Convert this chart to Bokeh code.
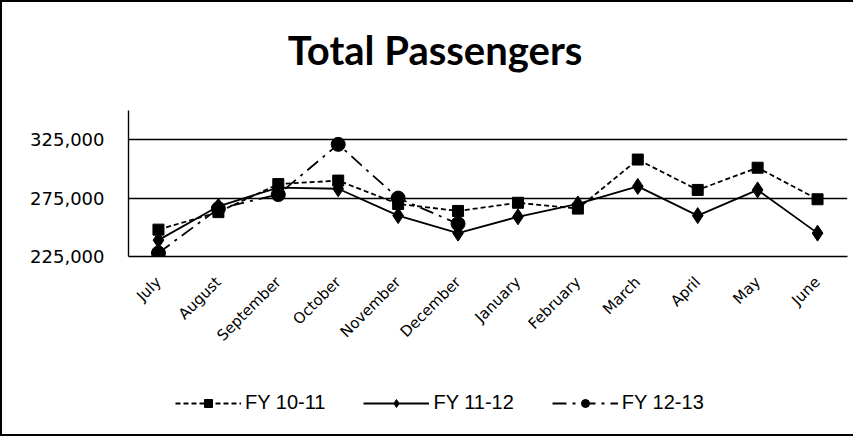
import math
from bokeh.plotting import figure
from bokeh.layouts import column
from bokeh.models import (FactorRange, Range1d, FixedTicker, NumeralTickFormatter,
                          Legend, LegendItem, ColumnDataSource, Label)
from bokeh.embed import file_html
from bokeh.resources import INLINE

months = ["July", "August", "September", "October", "November", "December",
          "January", "February", "March", "April", "May", "June"]
fy_10_11 = [248000, 263000, 287000, 290000, 270000, 264000,
            271000, 266000, 308000, 282000, 301000, 274000]
fy_11_12 = [239000, 268000, 284000, 283000, 260000, 245000,
            259000, 270000, 285000, 260000, 282000, 245000]
fy_12_13 = [228000, 266000, 278000, 321000, 275000, 253000]
y_ticks = [225000, 275000, 325000]
series_names = ["FY 10-11", "FY 11-12", "FY 12-13"]
chart_title = "Total Passengers"

Y_MIN, Y_MAX = 225000, 350000
W = 851
HT, H1, H2 = 80, 290, 62
BL, BR, BT, BB = 126, 6, 28, 116

# title strip (its frame lines up with the chart frame: page x 136..855, y 10..90)
r = figure(width=W, height=HT, x_range=Range1d(136, 855), y_range=Range1d(90, 10),
           output_backend="svg", toolbar_location=None,
           min_border_left=BL, min_border_right=BR, min_border_top=0, min_border_bottom=0)
r.title.visible = False
r.outline_line_color = None
r.xaxis.visible = False
r.yaxis.visible = False
r.xgrid.visible = False
r.ygrid.visible = False
r.border_fill_color = "white"
r.add_layout(Label(x=442.5, y=57, text=chart_title, text_align="center",
                   text_baseline="alphabetic", text_font="Lato",
                   text_font_style="bold", text_font_size="40px", text_color="black"))

# main chart
p = figure(width=W, height=H1, x_range=FactorRange(*months, range_padding=0),
           y_range=Range1d(Y_MIN, Y_MAX), output_backend="svg",
           toolbar_location=None, min_border_left=BL, min_border_right=BR,
           min_border_top=BT, min_border_bottom=BB)
p.title.visible = False
p.outline_line_color = None
p.background_fill_color = "white"
p.border_fill_color = "white"

p.xgrid.grid_line_color = None
p.ygrid.ticker = FixedTicker(ticks=y_ticks)
p.ygrid.grid_line_color = "black"
p.ygrid.grid_line_width = 1.4

yax = p.yaxis[0]
yax.ticker = FixedTicker(ticks=y_ticks)
yax.formatter = NumeralTickFormatter(format="0,0")
yax.axis_line_color = "black"
yax.axis_line_width = 1.4
yax.major_tick_out = 0
yax.major_tick_in = 0
yax.minor_tick_line_color = None
yax.major_label_standoff = 24
yax.major_label_text_font = "DejaVu Sans"
yax.major_label_text_font_size = "18px"
yax.major_label_text_color = "black"

xax = p.xaxis[0]
xax.axis_line_color = "black"
xax.axis_line_width = 1.4
xax.major_tick_line_color = None
xax.minor_tick_line_color = None
xax.major_label_orientation = math.pi / 4
xax.major_label_standoff = 17
xax.major_label_text_font = "DejaVu Sans"
xax.major_label_text_font_size = "15px"
xax.major_label_text_color = "black"

s1 = ColumnDataSource(dict(x=months, y=fy_10_11))
s2 = ColumnDataSource(dict(x=months, y=fy_11_12))
s3 = ColumnDataSource(dict(x=months[:len(fy_12_13)], y=fy_12_13))
sources = [s1, s2, s3]

styles = [dict(line_dash="5 3", marker="square", size=11),
          dict(line_dash="solid", marker="diamond", size=16),
          dict(line_dash="14 6 3 6", marker="circle", size=14)]

for src, st in zip(sources, styles):
    p.line("x", "y", source=src, line_color="black", line_width=1.8, line_dash=st["line_dash"])
    p.scatter("x", "y", source=src, marker=st["marker"], size=st["size"], color="black")

# legend strip below the chart (series drawn out of view; only the legend shows)
q = figure(width=W, height=H2, x_range=FactorRange(*months, range_padding=0),
           y_range=Range1d(0, 1), output_backend="svg", toolbar_location=None,
           min_border_left=BL, min_border_right=BR, min_border_top=0, min_border_bottom=0)
q.title.visible = False
q.outline_line_color = None
q.xaxis.visible = False
q.yaxis.visible = False
q.xgrid.visible = False
q.ygrid.visible = False
q.border_fill_color = "white"

items = []
for name, src, st in zip(series_names, sources, styles):
    lr = q.line("x", "y", source=src, line_color="black", line_width=1.8, line_dash=st["line_dash"])
    mr = q.scatter("x", "y", source=src, marker=st["marker"], size=st["size"], color="black")
    items.append(LegendItem(label=name, renderers=[lr, mr]))

legend = Legend(items=items, orientation="horizontal", location=(47, 20),
                glyph_width=66, glyph_height=20, spacing=38, padding=0, margin=0,
                label_standoff=4, label_text_color="black",
                label_text_font="Liberation Sans", label_text_font_size="20px",
                background_fill_alpha=0, border_line_color=None)
q.add_layout(legend, "center")

layout = column(r, p, q, spacing=0,
                styles={"border-left": "2px solid black", "border-top": "2px solid black",
                        "border-bottom": "2px solid black"})

open("out.html", "w").write(file_html(layout, INLINE))
